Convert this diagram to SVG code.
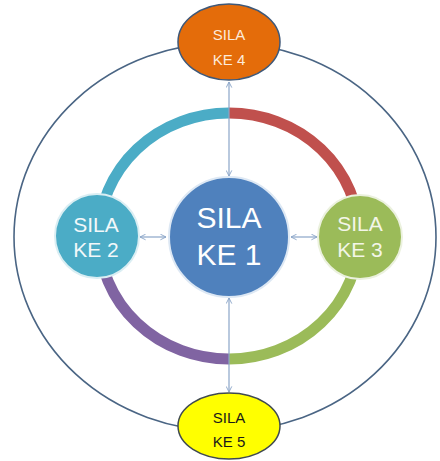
<svg xmlns="http://www.w3.org/2000/svg" width="440" height="461" viewBox="0 0 440 461">
  <defs>
    <style>
      .lbl { font-family: "Liberation Sans", Arial, sans-serif; text-anchor: middle; }
      .ring { fill: none; stroke-width: 11; }
      .link { fill: none; stroke: #8AA5C8; stroke-width: 1.2; }
    </style>
    <marker id="arrowhead" viewBox="0 0 10 10" refX="9" refY="5" markerWidth="7" markerHeight="7" markerUnits="userSpaceOnUse" orient="auto-start-reverse">
      <path d="M1,1 L9,5 L1,9" fill="none" stroke="#8AA5C8" stroke-width="1.3"/>
    </marker>
  </defs>

  <rect width="440" height="461" fill="#FFFFFF"/>

  <!-- outer orbit -->
  <ellipse cx="225" cy="237" rx="211" ry="194" fill="none" stroke="#4A6584" stroke-width="1.6"/>

  <!-- four-colour ring -->
  <g id="ring">
    <path class="ring" stroke="#4BACC6" d="M99,236 A130,123 0 0 1 229,113"/>
    <path class="ring" stroke="#C0504D" d="M229,113 A130,123 0 0 1 359,236"/>
    <path class="ring" stroke="#9BBB59" d="M359,236 A130,123 0 0 1 229,359"/>
    <path class="ring" stroke="#8064A2" d="M229,359 A130,123 0 0 1 99,236"/>
  </g>

  <!-- connectors -->
  <g id="connectors">
    <line class="link" x1="229" y1="82" x2="229" y2="176" marker-start="url(#arrowhead)" marker-end="url(#arrowhead)"/>
    <line class="link" x1="229" y1="298" x2="229" y2="392" marker-start="url(#arrowhead)" marker-end="url(#arrowhead)"/>
    <line class="link" x1="140" y1="237" x2="166" y2="237" marker-start="url(#arrowhead)" marker-end="url(#arrowhead)"/>
    <line class="link" x1="291" y1="237" x2="317" y2="237" marker-start="url(#arrowhead)" marker-end="url(#arrowhead)"/>
  </g>

  <g id="sila-ke-1">
    <circle cx="229" cy="237" r="60" fill="#4F81BD" stroke="#DDE8F4" stroke-width="2"/>
    <text class="lbl" x="229" y="228" font-size="30" fill="#FFFFFF">SILA</text>
    <text class="lbl" x="229" y="265" font-size="30" fill="#FFFFFF">KE 1</text>
  </g>

  <g id="sila-ke-2">
    <circle cx="97" cy="236" r="42" fill="#4BACC6" stroke="#DAEEF3" stroke-width="2"/>
    <text class="lbl" x="96" y="232" font-size="21" fill="#F2F8FA">SILA</text>
    <text class="lbl" x="96" y="257" font-size="21" fill="#F2F8FA">KE 2</text>
  </g>

  <g id="sila-ke-3">
    <circle cx="360" cy="237" r="42" fill="#9BBB59" stroke="#EBF1DE" stroke-width="2"/>
    <text class="lbl" x="360" y="231" font-size="21" fill="#F3F6E8">SILA</text>
    <text class="lbl" x="360" y="257" font-size="21" fill="#F3F6E8">KE 3</text>
  </g>

  <g id="sila-ke-4">
    <ellipse cx="229" cy="42" rx="51" ry="38" fill="#E46C0A" stroke="#3F5878" stroke-width="1.5"/>
    <text class="lbl" x="229" y="40" font-size="15" fill="#FDEADA">SILA</text>
    <text class="lbl" x="229" y="65" font-size="15" fill="#FDEADA">KE 4</text>
  </g>

  <g id="sila-ke-5">
    <ellipse cx="229" cy="426" rx="51" ry="33" fill="#FFFF00" stroke="#404A50" stroke-width="1.5"/>
    <text class="lbl" x="229" y="423" font-size="15" fill="#1A1A1A">SILA</text>
    <text class="lbl" x="229" y="447" font-size="15" fill="#1A1A1A">KE 5</text>
  </g>
</svg>
